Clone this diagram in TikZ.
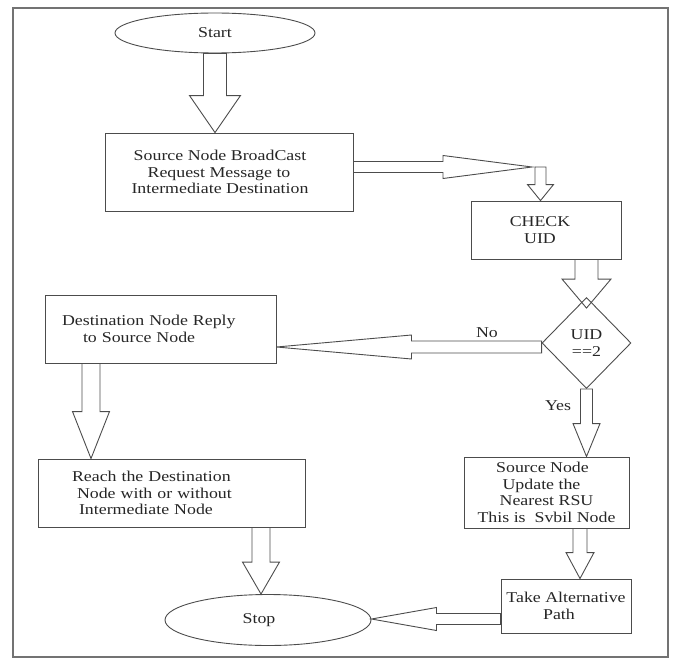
\documentclass[tikz,border=0pt]{standalone}
\usepackage{fontspec}
\setmainfont{Liberation Serif}[FakeStretch=1.19]
\usetikzlibrary{shapes.geometric,calc}
\tikzset{
  ln/.style={draw=black!70, line width=0.9pt},
  txt/.style={font=\fontsize{15}{16.6}\selectfont, text=black!85},
  box/.style={ln, txt, rectangle, inner sep=0pt, align=center},
  oval/.style={ln, txt, ellipse, inner sep=0pt},
  dia/.style={ln, txt, diamond, inner sep=0pt, align=center},
  barrow/.style={ln, line join=miter},
  lbl/.style={txt, inner sep=0pt},
  frame/.style={draw=black!55, line width=1.5pt}
}
% from, tip, shaft half width, head half width, head length
\newcommand\arrowdown[5]{\draw[barrow] let \p1=(#1), \p2=(#2) in
  (\x1-#3,\y1) -- (\x1-#3,\y2+#5) -- (\x1-#4,\y2+#5) -- (\x1,\y2) --
  (\x1+#4,\y2+#5) -- (\x1+#3,\y2+#5) -- (\x1+#3,\y1) -- cycle;}
\newcommand\arrowright[5]{\draw[barrow] let \p1=(#1), \p2=(#2) in
  (\x1,\y1+#3) -- (\x2-#5,\y1+#3) -- (\x2-#5,\y1+#4) -- (\x2,\y1) --
  (\x2-#5,\y1-#4) -- (\x2-#5,\y1-#3) -- (\x1,\y1-#3) -- cycle;}
\newcommand\arrowleft[5]{\draw[barrow] let \p1=(#1), \p2=(#2) in
  (\x1,\y1+#3) -- (\x2+#5,\y1+#3) -- (\x2+#5,\y1+#4) -- (\x2,\y1) --
  (\x2+#5,\y1-#4) -- (\x2+#5,\y1-#3) -- (\x1,\y1-#3) -- cycle;}
\begin{document}
\begin{tikzpicture}[x=1pt,y=-1pt]
\useasboundingbox (0,0) rectangle (674,661);
\draw[frame] (13,8) rectangle (668,657);

\node[oval, minimum width=200pt, minimum height=40pt] (start) at (215,33) {Start};
\node[box, minimum width=248pt, minimum height=78pt] (src) at (229,172)
  {\hspace*{-18pt}Source Node BroadCast\\\hspace*{-20pt}Request Message to\\\hspace*{-18pt}Intermediate Destination};
\coordinate (j) at (540.5,167);
\node[box, minimum width=150pt, minimum height=58pt] (check) at (546,230) {\hspace*{-12pt}CHECK\\\hspace*{-12pt}UID};
\node[dia, minimum width=89pt, minimum height=91pt] (uid) at (586.5,343) {UID\\==2};
\node[box, minimum width=231pt, minimum height=68pt, text width=197pt, align=left, inner xsep=17pt] (dest) at (160.5,329)
  {Destination Node Reply\\\hspace*{21pt}to Source Node};
\node[box, minimum width=267pt, minimum height=68pt, text width=199pt, align=left, inner xsep=34pt] (reach) at (171.5,493)
  {Reach the Destination\\\hspace*{5pt}Node with or without\\\hspace*{7pt}Intermediate Node};
\node[box, minimum width=165pt, minimum height=71pt] (syb) at (546.5,492.5)
  {\hspace*{-8pt}Source Node\\\hspace*{-10pt}Update the\\Nearest RSU\\This is\ \ Svbil Node};
\node[box, minimum width=130pt, minimum height=54pt] (tap) at (566,606) {Take Alternative\\\hspace*{-14pt}Path};
\node[oval, minimum width=206pt, minimum height=51pt] (stop) at (268,620) {\hspace*{-18pt}Stop};

\node[lbl] (nolbl) at (487,333) {No};
\node[lbl] (yeslbl) at (558,406) {Yes};

\coordinate (a8) at ([yshift=5pt]src.east);
\coordinate (j0) at ([xshift=-8.5pt]j);
\coordinate (a3t) at ([yshift=-11pt]uid.north);
\coordinate (a9) at ([yshift=-4pt]uid.west);
\coordinate (a5) at ([xshift=33.5pt]syb.south);
\coordinate (a6) at ([xshift=-69.5pt]dest.south);
\coordinate (a7) at ([xshift=89.5pt]reach.south);
\coordinate (a10) at ([yshift=-13pt]tap.west);

\arrowdown{start.south}{start.south |- src.north}{11.5pt}{25.5pt}{37pt}
\arrowright{a8}{j0}{5.5pt}{11.5pt}{89pt}
\arrowdown{j}{j |- check.north}{5.5pt}{13pt}{16pt}
\arrowdown{uid.north |- check.south}{a3t}{11.5pt}{24.5pt}{29pt}
\arrowleft{a9}{dest.east}{6pt}{12pt}{135pt}
\arrowdown{uid.south}{uid.south |- syb.north}{6pt}{13.5pt}{33pt}
\arrowdown{a5}{a5 |- tap.north}{7pt}{14pt}{26pt}
\arrowdown{a6}{a6 |- reach.north}{9pt}{18.5pt}{47pt}
\arrowdown{a7}{a7 |- stop.north}{9pt}{18.5pt}{32pt}
\arrowleft{a10}{stop.east}{5.5pt}{11.5pt}{65pt}
\end{tikzpicture}
\end{document}
